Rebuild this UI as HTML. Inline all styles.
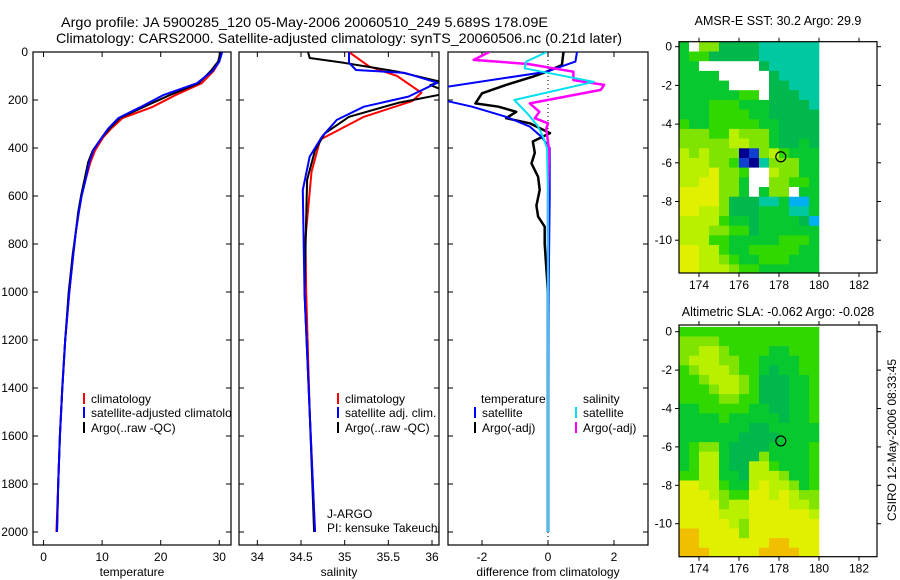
<!DOCTYPE html>
<html><head><meta charset="utf-8">
<style>
html,body{margin:0;padding:0;background:#fff;}
svg{display:block;font-family:"Liberation Sans",Arial,sans-serif;}
</style></head>
<body>
<svg id="fig" width="900" height="580" viewBox="0 0 900 580" xmlns="http://www.w3.org/2000/svg">
<rect width="900" height="580" fill="#fff"/>
<text x="61" y="27" font-size="14" textLength="487" lengthAdjust="spacingAndGlyphs">Argo profile: JA 5900285_120 05-May-2006 20060510_249 5.689S 178.09E</text>
<text x="56" y="43" font-size="14" textLength="566" lengthAdjust="spacingAndGlyphs">Climatology: CARS2000. Satellite-adjusted climatology: synTS_20060506.nc (0.21d later)</text>
<g id="charts"></g>
</svg>
<script>
// ---- profile data (depth in m) ----
const tDepth = [0,40,80,130,180,230,275,320,355,410,460,530,600,670,750,840,1000,1200,1400,1600,1800,2000];
const tClim  = [30.3,30,29,27,22.5,18.5,13.5,11.5,10.2,8.8,8,7.2,6.5,6,5.5,5.1,4.4,3.7,3.2,2.8,2.5,2.2];
const tSat   = [30.5,30,28.8,26.2,20.4,16.5,12.8,11,10,8.5,7.8,7.2,6.5,6,5.5,5.1,4.4,3.7,3.2,2.8,2.5,2.3];
const tArgo  = [30.2,29.8,28.5,26.5,21.5,17,13,11.2,10,8.4,7.6,7,6.4,5.9,5.5,5.0,4.3,3.7,3.2,2.8,2.5,2.3];

const sClimDepth = [0,60,100,170,205,270,365,500,780,1000,1500,2000];
const sClim      = [35.05,35.28,35.6,35.88,35.77,35.22,34.72,34.62,34.55,34.56,34.6,34.66];
const sSatDepth  = [0,45,75,87,128,186,228,283,353,436,575,1000,1500,2000];
const sSat       = [35.05,35.05,35.13,35.69,36.06,35.73,35.22,34.91,34.74,34.6,34.52,34.54,34.6,34.66];
const sArgoDepth = [0,25,45,82,124,138,170,212,270,340,410,533,1000,1500,2000];
const sArgo      = [34.58,34.6,34.99,35.61,36.1,35.98,36.2,35.61,35.05,34.77,34.66,34.57,34.54,34.6,34.65];

const dTSatDepth  = [0,40,82,150,200,228,270,311,353,400,600,1000,1500,2000];
const dTSat       = [0.88,0.83,-0.04,-3.3,-3.2,-2.3,-1.27,-0.55,-0.2,0.05,0.05,0.02,0,0];
const dTArgoDepth = [0,54,82,103,137,172,214,228,249,276,297,338,373,420,464,520,575,640,686,728,800,900,1000,1500,2000];
const dTArgo      = [0.47,0.42,-0.04,-0.46,-1.27,-2.0,-2.2,-1.5,-0.96,-1.27,-0.55,0.06,-0.46,-0.4,-0.5,-0.3,-0.25,-0.35,-0.3,-0.1,-0.1,-0.05,0,0,0];
const dSSatDepth  = [0,40,68,124,200,260,311,353,400,600,2000];
const dSSat       = [-0.04,-0.66,-0.71,1.39,-1.02,-0.6,-0.3,-0.15,-0.03,0,0];
const dSArgoDepth = [0,33,50,82,117,137,158,214,249,276,297,320,408,600,2000];
const dSArgo      = [-1.78,-2.25,-0.6,0.77,0.77,1.7,1.6,-0.55,-0.26,-0.4,0,-0.05,0.03,0,0];

const depthTicks = [0,200,400,600,800,1000,1200,1400,1600,1800,2000];
const tTicks = [0,10,20,30];
const sTicks = [34,34.5,35,35.5,36];
const dTicks = [-2,0,2];

// ---- map data (rows from north to south, 0.5 deg cells, lon 173..180) ----
const mapLons = [173,173.5,174,174.5,175,175.5,176,176.5,177,177.5,178,178.5,179,179.5];
const sstRows = [
"5w774444333333","56644444333333","55wwwwww433333","5555wwwww43333",
"55555wwww44333","55555566w44433","55566655544443","55566665544444",
"65566666554444","77766877754444","77777887754454","87877701786555",
"88877610377755","8889776ww87755","8899775ww77665","9999775w577w55",
"99997444335225","99887444555335","88886554555542","88877664555555",
"88866555556665","99886556666655","99887655666555","99888766555555"];
const slaRows = [
"66666666666666","77776666666666","77887666655666","78887766555566",
"67888766545566","66788876444556","66678876444556","66667766444556",
"55666665544556","55556555554556","55555554455555","55555544445555",
"56775444455556","56885444755556","56885448865556","66885548887556",
"99886558988756","99987669989877","99997889999887","99998889999998",
"99999879999999","aa999979999999","aa9999999aa999","aaa99999aaaa99"];
const argoLon = 178.09, argoLat = -5.689;
const palette = {"0":"#000090","1":"#1040d0","2":"#00b0f0","3":"#00c8a0","4":"#00b84c","5":"#08c830","6":"#30d800","7":"#80e400","8":"#b8f000","9":"#e0f000","a":"#f0c000","w":"#ffffff"};

const NS="http://www.w3.org/2000/svg";
const root=document.getElementById('charts');
function el(tag,attrs,parent){const e=document.createElementNS(NS,tag);for(const k in attrs)e.setAttribute(k,attrs[k]);(parent||root).appendChild(e);return e;}
function txt(s,attrs,parent){const e=el('text',attrs,parent);e.textContent=s;return e;}

const yTop=52, yPer=0.24; // px per m
function yD(d){return yTop+d*yPer;}
const panelBottom=545;

function panel(name,x0,x1,vmin,vmax,xticks,xlabel,fmt){
  const g=el('g',{});
  
  
  const sx=v=>x0+(v-vmin)/(vmax-vmin)*(x1-x0);
  const cid='clip-'+name;
  const cp=el('clipPath',{id:cid},g);el('rect',{x:x0,y:yTop,width:x1-x0,height:panelBottom-yTop},cp);
  const frame=el('rect',{x:x0,y:yTop,width:x1-x0,height:panelBottom-yTop,fill:'none',stroke:'#000','stroke-width':1.2},g);
  
  
  depthTicks.forEach(d=>{
    el('line',{x1:x0,x2:x0+5,y1:yD(d),y2:yD(d),stroke:'#000'},g);
    el('line',{x1:x1,x2:x1-5,y1:yD(d),y2:yD(d),stroke:'#000'},g);
  });
  xticks.forEach(v=>{
    const x=sx(v);
    el('line',{x1:x,x2:x,y1:yTop,y2:yTop+5,stroke:'#000'},g);
    el('line',{x1:x,x2:x,y1:panelBottom,y2:panelBottom-5,stroke:'#000'},g);
    const t=txt(fmt(v),{x:x,y:561,'font-size':12,'text-anchor':'middle'},g);
    
    
  });
  const xl=txt(xlabel,{x:(x0+x1)/2,y:576,'font-size':12,'text-anchor':'middle'},g);
  
  
  const lines=el('g',{'clip-path':'url(#'+cid+')'},g);
  return {g,sx,lines};
}
function series(p,depths,vals,color,name,w){
  const pts=depths.map((d,i)=>p.sx(vals[i]).toFixed(1)+','+yD(d).toFixed(1)).join(' ');
  const pl=el('polyline',{points:pts,fill:'none',stroke:color,'stroke-width':w||2,'stroke-linejoin':'round'},p.lines);
  
  
}
function legend(p,x,y,color,label){
  const m=el('line',{x1:x,x2:x,y1:y-10,y2:y+1,stroke:color,'stroke-width':2},p.g);
  
  
  const t=txt(label,{x:x+7,y:y,'font-size':12},p.g);
  
  
}

depthTicks.forEach(d=>{
  const t=txt(String(d),{x:28,y:yD(d)+4,'font-size':12,'text-anchor':'end'});
  
  
});

const p1=panel('temperature-panel',33,231,-1.8,32,tTicks,'temperature',v=>String(v));
series(p1,tDepth,tClim,'#ff0000','temperature-climatology-line');
series(p1,tDepth,tArgo,'#000000','temperature-argo-line');
series(p1,tDepth,tSat,'#0000ff','temperature-satellite-line');
const lg1=el('g',{'clip-path':'url(#clip-temperature-panel)'},p1.g);
legend({g:lg1},84,403,'#ff0000','climatology');
legend({g:lg1},84,417,'#0000ff','satellite-adjusted climatology');
legend({g:lg1},84,432,'#000000','Argo(..raw -QC)');

const p2=panel('salinity-panel',239,439,33.79,36.08,sTicks,'salinity',v=>String(v));
series(p2,sClimDepth,sClim,'#ff0000','salinity-climatology-line');
series(p2,sArgoDepth,sArgo,'#000000','salinity-argo-line');
series(p2,sSatDepth,sSat,'#0000ff','salinity-satellite-line');
legend(p2,338,403,'#ff0000','climatology');
legend(p2,338,417,'#0000ff','satellite adj. clim.');
legend(p2,338,432,'#000000','Argo(..raw -QC)');
let t1=txt('J-ARGO',{x:327,y:518,'font-size':12},p2.g);


let t2=txt('PI: kensuke Takeuchi',{x:327,y:532,'font-size':12},p2.g);



const p3=panel('difference-panel',448,648,-3.03,3.03,dTicks,'difference from climatology',v=>String(v));
const zx=p3.sx(0);
const zl=el('line',{x1:zx,x2:zx,y1:yTop,y2:panelBottom,stroke:'#000','stroke-dasharray':'1,3'},p3.lines);


series(p3,dTArgoDepth,dTArgo,'#000000','temp-argo-diff-line',2.5);
series(p3,dTSatDepth,dTSat,'#0000ff','temp-satellite-diff-line');
series(p3,dSArgoDepth,dSArgo,'#ff00ff','sal-argo-diff-line',2.5);
series(p3,dSSatDepth,dSSat,'#00e0f0','sal-satellite-diff-line');
let th=txt('temperature',{x:481,y:403,'font-size':12},p3.g);


let sh=txt('salinity',{x:583,y:403,'font-size':12},p3.g);


legend(p3,475,417,'#0000ff','satellite');
legend(p3,475,432,'#000000','Argo(-adj)');
legend(p3,576,417,'#00e0f0','satellite');
legend(p3,576,432,'#ff00ff','Argo(-adj)');

function map(name,title,rows,top,bottom,lat0px,pxPerLat,titleY){
  const g=el('g',{});
  
  
  const x0=679,x1=877;
  const sx=lon=>679+(lon-173)*20;
  const sy=lat=>lat0px-lat*pxPerLat;
  rows.forEach((row,r)=>{
    const latN=0.25-r*0.5;
    for(let c=0;c<row.length;c++){
      const lon=mapLons[c];
      const yA=Math.max(top,sy(latN)), yB=Math.min(bottom,sy(latN-0.5));
      const cell=el('rect',{x:sx(lon).toFixed(1),y:yA.toFixed(1),width:10.3,height:(yB-yA+0.4).toFixed(1),fill:palette[row[c]]},g);
      
      
    }
  });
  const fr=el('rect',{x:x0,y:top,width:x1-x0,height:bottom-top,fill:'none',stroke:'#000','stroke-width':1.2},g);
  
  
  [174,176,178,180,182].forEach(l=>{
    el('line',{x1:sx(l),x2:sx(l),y1:bottom,y2:bottom+4,stroke:'#000'},g);
    el('line',{x1:sx(l),x2:sx(l),y1:top,y2:top-4,stroke:'#000'},g);
    const t=txt(String(l),{x:sx(l),y:bottom+16,'font-size':12,'text-anchor':'middle'},g);
    
    
  });
  [0,-2,-4,-6,-8,-10].forEach(l=>{
    el('line',{x1:x0,x2:x0-4,y1:sy(l),y2:sy(l),stroke:'#000'},g);
    el('line',{x1:x1,x2:x1+4,y1:sy(l),y2:sy(l),stroke:'#000'},g);
    const t=txt(String(l),{x:672,y:sy(l)+4,'font-size':12,'text-anchor':'end'},g);
    
    
  });
  const c=el('circle',{cx:sx(argoLon),cy:sy(argoLat),r:5,fill:'none',stroke:'#000','stroke-width':1.2},g);
  
  
  const tt=txt(title,{x:778,y:titleY,'font-size':12.5,'text-anchor':'middle'},g);
  
  
}
map('sst-map','AMSR-E SST: 30.2  Argo: 29.9',sstRows,41.7,273,46.7,19.35,25);
map('sla-map','Altimetric SLA: -0.062  Argo: -0.028',slaRows,325,556.7,331.7,19.2,316);

const cs=txt('CSIRO 12-May-2006 08:33:45',{x:0,y:0,'font-size':12,'text-anchor':'middle',transform:'translate(896,440) rotate(-90)'});


</script>
</body></html>
